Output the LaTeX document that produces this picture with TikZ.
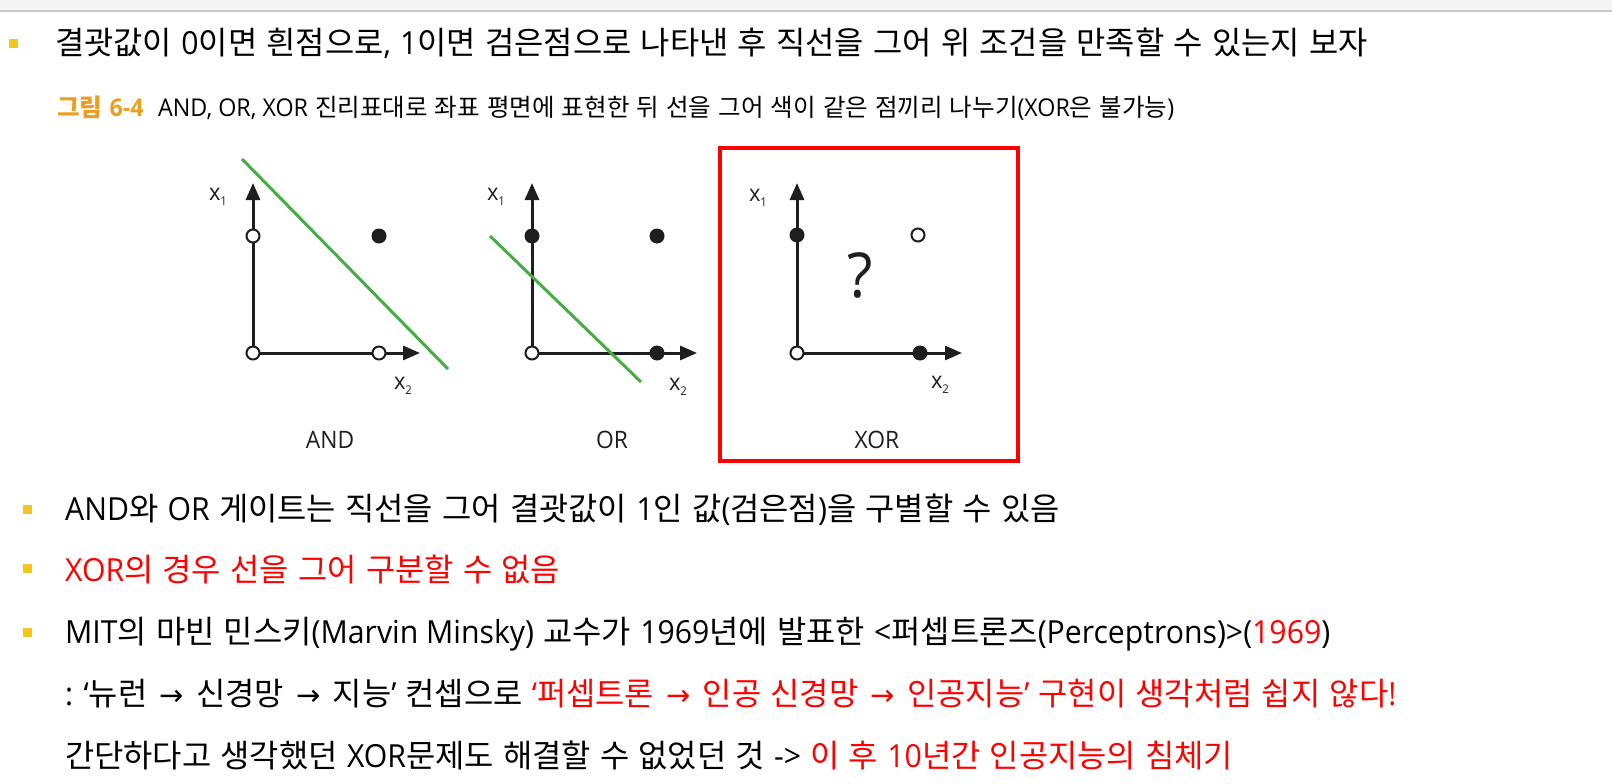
\documentclass[tikz,border=0pt]{standalone}
\usepackage{fontspec}
\setmainfont[WordSpace=1.3]{Noto Sans CJK KR}
\newfontfamily\latf[FakeStretch=0.95]{Open Sans}
\newfontfamily\arrf{DejaVu Sans}
\newcommand\en[1]{{\latf #1}}
\newcommand\rarr{\hspace{3pt}{\arrf\fontsize{29}{29}\selectfont →}\hspace{3pt}}
\usetikzlibrary{arrows.meta}
\definecolor{bulletyellow}{RGB}{245,197,30}
\definecolor{capor}{RGB}{238,158,30}
\definecolor{sepgreen}{RGB}{70,172,70}
\definecolor{axcol}{RGB}{30,30,30}
\definecolor{barbg}{RGB}{244,244,244}
\definecolor{barline}{RGB}{200,200,200}
\definecolor{txtred}{RGB}{255,0,0}
\tikzset{
  txt/.style={anchor=base west, inner sep=0pt, font=\fontsize{31.8}{36}\selectfont},
  captxt/.style={anchor=base west, inner sep=0pt, font=\fontsize{24.5}{28}\selectfont},
  bul/.style={fill=bulletyellow, minimum size=9pt, inner sep=0pt},
  ax/.style={line width=3pt, draw=axcol, -{Triangle[length=17pt,width=14pt]}},
  opn/.style={circle, draw=axcol, fill=white, line width=2pt, minimum size=13pt, inner sep=0pt},
  fil/.style={circle, fill=axcol, minimum size=15pt, inner sep=0pt},
  sepline/.style={line width=3pt, draw=sepgreen},
  axlbl/.style={inner sep=0pt, font=\latf\fontsize{23}{26}\selectfont, text=axcol},
  gname/.style={inner sep=0pt, font=\latf\fontsize{24}{28}\selectfont, text=axcol},
}
\newcommand\xs[1]{x\raisebox{-5pt}{\fontsize{12}{12}\selectfont #1}}
\begin{document}
\begin{tikzpicture}[x=1pt,y=-1pt]
\useasboundingbox (0,0) rectangle (1612,784);
\fill[white] (0,0) rectangle (1612,784);
% top bar
\fill[barbg] (0,0) rectangle (1612,11);
\draw[barline, line width=1.5pt] (0,11) -- (1612,11);

% title
\node[bul] (b1) at (13,44) {};
\node[txt] (t1) at (55,55) {결괏값이 \en{0}이면 흰점으로\en{,} \en{1}이면 검은점으로 나타낸 후 직선을 그어 위 조건을 만족할 수 있는지 보자};

% caption
\node[captxt, text=capor, font=\fontsize{24.5}{28}\selectfont\bfseries] (c0) at (57,117) {그림 {\latf\bfseries 6-4}};
\node[captxt] (c1) at (158,117) {\en{AND, OR, XOR} 진리표대로 좌표 평면에 표현한 뒤 선을 그어 색이 같은 점끼리 나누기\en{(XOR}은 불가능\en{)}};

% ---------- AND ----------
\coordinate (ando) at (253,353);
\coordinate (andy) at (253,183);
\coordinate (andx) at (420,353);
\draw[ax] (ando) -- (andy);
\draw[ax] (ando) -- (andx);
\node[opn] (and00) at (253,353) {};
\node[opn] (and10) at (253,236) {};
\node[opn] (and01) at (379,353) {};
\node[fil] (and11) at (379,236) {};
\coordinate (andsa) at (242,159);
\coordinate (andsb) at (448,369);
\draw[sepline] (andsa) -- (andsb);
\node[axlbl] (andl1) at (218,197) {\xs{1}};
\node[axlbl] (andl2) at (403,386) {\xs{2}};
\node[gname] (andn) at (330,440) {AND};

% ---------- OR ----------
\coordinate (oro) at (532,353);
\coordinate (ory) at (532,183);
\coordinate (orx) at (697,353);
\draw[ax] (oro) -- (ory);
\draw[ax] (oro) -- (orx);
\node[opn] (or00) at (532,353) {};
\node[fil] (or10) at (532,236) {};
\node[fil] (or01) at (657,353) {};
\node[fil] (or11) at (657,236) {};
\coordinate (orsa) at (490,236);
\coordinate (orsb) at (641,382);
\draw[sepline] (orsa) -- (orsb);
\node[axlbl] (orl1) at (496,197) {\xs{1}};
\node[axlbl] (orl2) at (678,387) {\xs{2}};
\node[gname] (orn) at (612,440) {OR};

% ---------- XOR ----------
\draw[txtred, line width=3.5pt] (720,148) rectangle (1018,461);
\coordinate (xoro) at (797,353);
\coordinate (xory) at (797,183);
\coordinate (xorx) at (962,353);
\draw[ax] (xoro) -- (xory);
\draw[ax] (xoro) -- (xorx);
\node[opn] (xor00) at (797,353) {};
\node[fil] (xor10) at (797,235) {};
\node[fil] (xor01) at (920,353) {};
\node[opn] (xor11) at (918,235) {};
\node[inner sep=0pt, font=\latf\fontsize{62}{64}\selectfont, text=axcol] (q) at (860,275) {?};
\node[axlbl] (xorl1) at (758,198) {\xs{1}};
\node[axlbl] (xorl2) at (940,385) {\xs{2}};
\node[gname] (xorn) at (877,440) {XOR};

% bottom bullets
\node[bul] (b2) at (27,509) {};
\node[bul] (b3) at (27,568) {};
\node[bul] (b4) at (27,632) {};
\node[txt] (l2) at (65,520) {\en{AND}와 \en{OR} 게이트는 직선을 그어 결괏값이 \en{1}인 값\en{(}검은점\en{)}을 구별할 수 있음};
\node[txt, text=txtred] (l3) at (65,581) {\en{XOR}의 경우 선을 그어 구분할 수 없음};
\node[txt] (l4) at (65,643) {\en{MIT}의 마빈 민스키\en{(Marvin Minsky)} 교수가 \en{1969}년에 발표한 \en{<}퍼셉트론즈\en{(Perceptrons)>(}\textcolor{txtred}{\en{1969}}\en{)}};
\node[txt] (l5) at (65,705) {\en{: ‘}뉴런 \rarr{} 신경망 \rarr{} 지능\en{’} 컨셉으로 \textcolor{txtred}{\en{‘}퍼셉트론 \rarr{} 인공 신경망 \rarr{} 인공지능\en{’} 구현이 생각처럼 쉽지 않다\en{!}}};
\node[txt] (l6) at (65,767) {간단하다고 생각했던 \en{XOR}문제도 해결할 수 없었던 것 \en{->} \textcolor{txtred}{이 후 \en{10}년간 인공지능의 침체기}};
\end{tikzpicture}
\end{document}
